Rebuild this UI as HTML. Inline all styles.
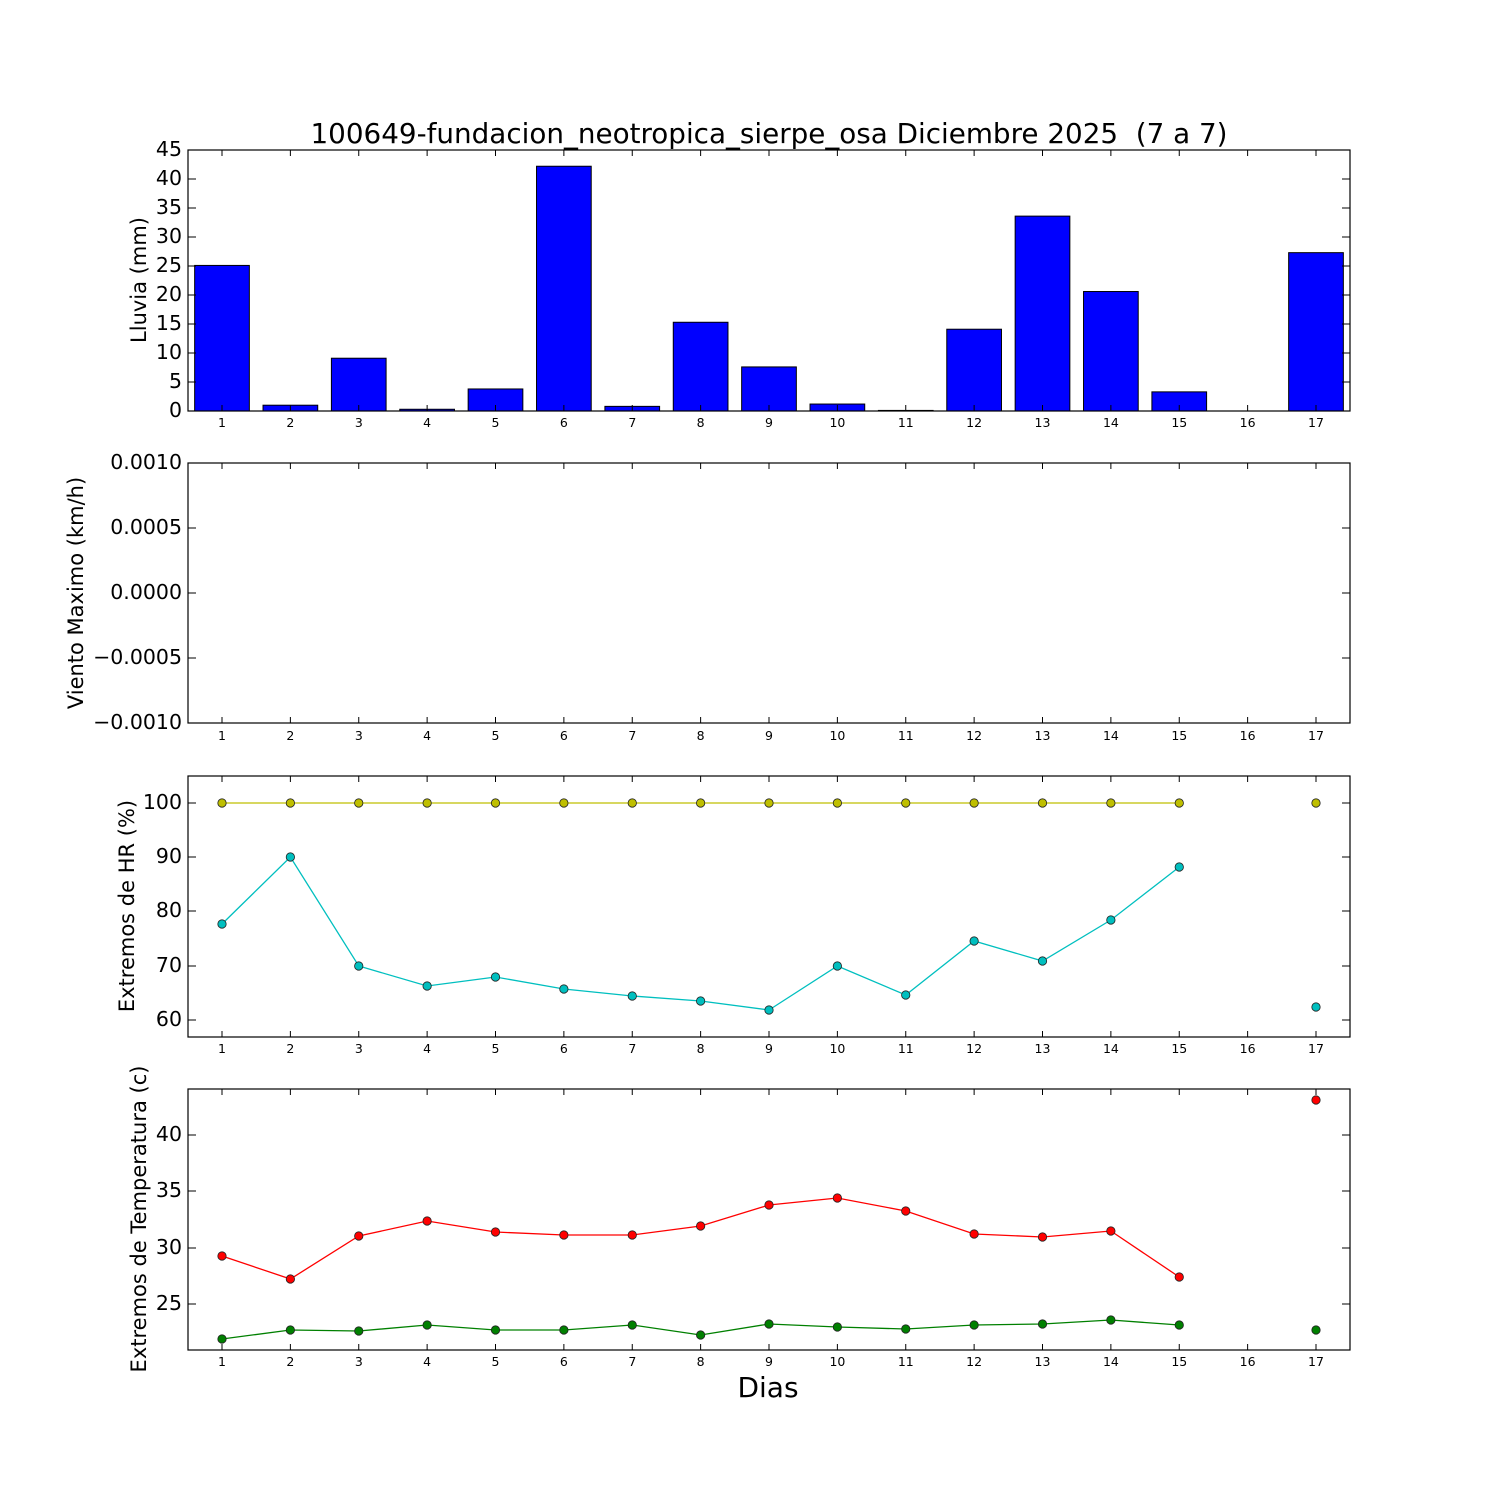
<!DOCTYPE html>
<html><head><meta charset="utf-8"><style>
html,body{margin:0;padding:0;background:#fff;}
svg{display:block;font-family:"DejaVu Sans","Liberation Sans",sans-serif;}
.xl{font-size:12.5px;text-anchor:middle;}
.yl{font-size:20.5px;text-anchor:end;}
.lab{font-size:21px;text-anchor:middle;}
</style></head><body>
<svg id="s" width="1500" height="1500" viewBox="0 0 1500 1500" xmlns="http://www.w3.org/2000/svg">
<rect width="1500" height="1500" fill="#fff"/>
<g id="shapes"></g>
<text x="769" y="143" font-size="27.8" text-anchor="middle" xml:space="preserve">100649-fundacion_neotropica_sierpe_osa Diciembre 2025  (7 a 7)</text>
<g class="yl">
<text x="182" y="417">0</text><text x="182" y="388">5</text><text x="182" y="359">10</text><text x="182" y="330">15</text><text x="182" y="301">20</text><text x="182" y="272">25</text><text x="182" y="243">30</text><text x="182" y="214">35</text><text x="182" y="185">40</text><text x="182" y="156">45</text>
<text x="182" y="469">0.0010</text><text x="182" y="534">0.0005</text><text x="182" y="599">0.0000</text><text x="182" y="664">−0.0005</text><text x="182" y="729">−0.0010</text>
<text x="182" y="809">100</text><text x="182" y="863">90</text><text x="182" y="917">80</text><text x="182" y="972">70</text><text x="182" y="1026">60</text>
<text x="182" y="1141">40</text><text x="182" y="1197">35</text><text x="182" y="1254">30</text><text x="182" y="1310">25</text>
</g>
<text class="lab" transform="translate(146,280) rotate(-90)">Lluvia (mm)</text>
<text class="lab" transform="translate(83,593) rotate(-90)">Viento Maximo (km/h)</text>
<text class="lab" transform="translate(134,906) rotate(-90)">Extremos de HR (%)</text>
<text class="lab" transform="translate(146,1219) rotate(-90)">Extremos de Temperatura (c)</text>
<text x="768" y="1397" font-size="28" text-anchor="middle">Dias</text>
<g class="xl">
<text x="222" y="427">1</text><text x="290.4" y="427">2</text><text x="358.8" y="427">3</text><text x="427.1" y="427">4</text><text x="495.5" y="427">5</text><text x="563.9" y="427">6</text><text x="632.3" y="427">7</text><text x="700.6" y="427">8</text><text x="769" y="427">9</text><text x="837.4" y="427">10</text><text x="905.8" y="427">11</text><text x="974.1" y="427">12</text><text x="1042.5" y="427">13</text><text x="1110.9" y="427">14</text><text x="1179.3" y="427">15</text><text x="1247.6" y="427">16</text><text x="1316" y="427">17</text>
</g>
<g class="xl" transform="translate(0,313)">
<text x="222" y="427">1</text><text x="290.4" y="427">2</text><text x="358.8" y="427">3</text><text x="427.1" y="427">4</text><text x="495.5" y="427">5</text><text x="563.9" y="427">6</text><text x="632.3" y="427">7</text><text x="700.6" y="427">8</text><text x="769" y="427">9</text><text x="837.4" y="427">10</text><text x="905.8" y="427">11</text><text x="974.1" y="427">12</text><text x="1042.5" y="427">13</text><text x="1110.9" y="427">14</text><text x="1179.3" y="427">15</text><text x="1247.6" y="427">16</text><text x="1316" y="427">17</text>
</g>
<g class="xl" transform="translate(0,626)">
<text x="222" y="427">1</text><text x="290.4" y="427">2</text><text x="358.8" y="427">3</text><text x="427.1" y="427">4</text><text x="495.5" y="427">5</text><text x="563.9" y="427">6</text><text x="632.3" y="427">7</text><text x="700.6" y="427">8</text><text x="769" y="427">9</text><text x="837.4" y="427">10</text><text x="905.8" y="427">11</text><text x="974.1" y="427">12</text><text x="1042.5" y="427">13</text><text x="1110.9" y="427">14</text><text x="1179.3" y="427">15</text><text x="1247.6" y="427">16</text><text x="1316" y="427">17</text>
</g>
<g class="xl" transform="translate(0,939)">
<text x="222" y="427">1</text><text x="290.4" y="427">2</text><text x="358.8" y="427">3</text><text x="427.1" y="427">4</text><text x="495.5" y="427">5</text><text x="563.9" y="427">6</text><text x="632.3" y="427">7</text><text x="700.6" y="427">8</text><text x="769" y="427">9</text><text x="837.4" y="427">10</text><text x="905.8" y="427">11</text><text x="974.1" y="427">12</text><text x="1042.5" y="427">13</text><text x="1110.9" y="427">14</text><text x="1179.3" y="427">15</text><text x="1247.6" y="427">16</text><text x="1316" y="427">17</text>
</g>
</svg>
<script>
var g=document.getElementById('shapes'),h='';
var X=[];for(var i=0;i<17;i++)X.push(222+i*68.375);
var L=188,R=1350;
var P=[[150,411],[463,723],[776,1037],[1089,1350]];
var rain=[25.1,1.0,9.1,0.3,3.8,42.2,0.8,15.3,7.6,1.2,0.1,14.1,33.6,20.6,3.3,0,27.3];
rain.forEach(function(v,i){var hh=v*5.8;h+='<rect x="'+(X[i]-27.35)+'" y="'+(411-hh)+'" width="54.7" height="'+hh+'" fill="#0000ff" stroke="#000" stroke-width="1"/>';});
function yt(p,ys){ys.forEach(function(y){h+='<line x1="'+L+'" x2="'+(L+8)+'" y1="'+y+'" y2="'+y+'" stroke="#000"/><line x1="'+(R-8)+'" x2="'+R+'" y1="'+y+'" y2="'+y+'" stroke="#000"/>';});}
P.forEach(function(p){X.forEach(function(x){h+='<line x1="'+x+'" x2="'+x+'" y1="'+p[0]+'" y2="'+(p[0]+6)+'" stroke="#000"/><line x1="'+x+'" x2="'+x+'" y1="'+(p[1]-6)+'" y2="'+p[1]+'" stroke="#000"/>';});
h+='<rect x="'+L+'" y="'+p[0]+'" width="'+(R-L)+'" height="'+(p[1]-p[0])+'" fill="none" stroke="#000" stroke-width="1.2"/>';});
yt(0,[411,382,353,324,295,266,237,208,179,150]);
yt(1,[463,528,593,658,723]);
yt(2,[803,857,911,966,1020]);
yt(3,[1135,1191,1248,1304]);
function series(ys,n,col){var pts=[];for(var i=0;i<n;i++)pts.push(X[i]+','+ys[i]);
h+='<polyline points="'+pts.join(' ')+'" fill="none" stroke="'+col+'" stroke-width="1.3"/>';
ys.forEach(function(y,i){var x=i<n?X[i]:X[16];h+='<circle cx="'+x+'" cy="'+y+'" r="4.2" fill="'+col+'" stroke="#222" stroke-width="0.8"/>';});}
series([803,803,803,803,803,803,803,803,803,803,803,803,803,803,803,803],15,'#bfbf00');
series([924,857,966,986,977,989,996,1001,1010,966,995,941,961,920,867,1007],15,'#00bfbf');
series([1256,1279,1236,1221,1232,1235,1235,1226,1205,1198,1211,1234,1237,1231,1277,1100],15,'#ff0000');
series([1339,1330,1331,1325,1330,1330,1325,1335,1324,1327,1329,1325,1324,1320,1325,1330],15,'#008000');
g.innerHTML=h;
</script>
</body></html>
